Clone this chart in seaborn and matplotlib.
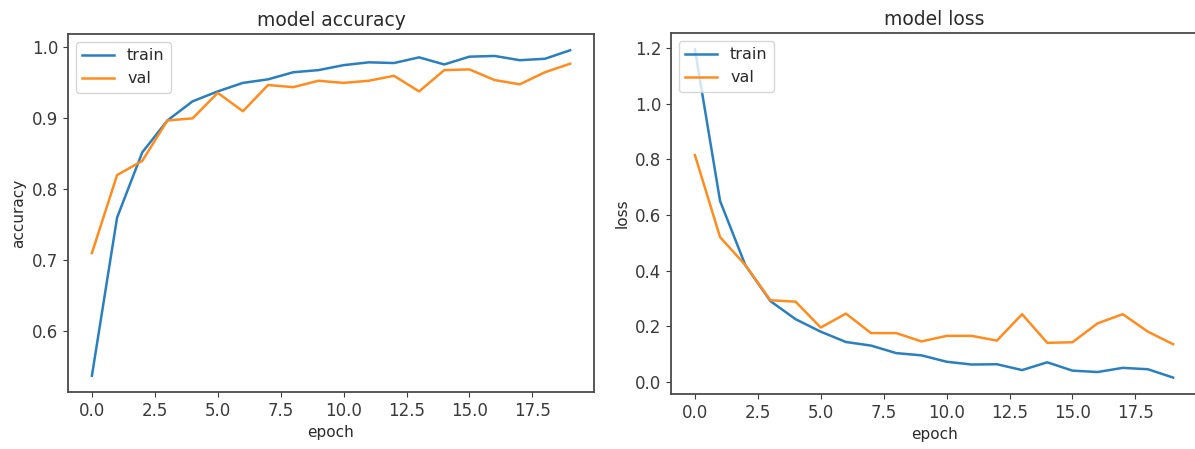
import numpy as np
import pandas as pd
import matplotlib
matplotlib.use("Agg")
import matplotlib.pyplot as plt
import seaborn as sns

# values
epochs = list(range(20))
acc_train = [0.537, 0.760, 0.852, 0.897, 0.924, 0.938, 0.950, 0.955, 0.965, 0.968,
             0.975, 0.979, 0.978, 0.986, 0.976, 0.987, 0.988, 0.982, 0.984, 0.996]
acc_val = [0.710, 0.820, 0.840, 0.897, 0.900, 0.936, 0.910, 0.947, 0.944, 0.953,
           0.950, 0.953, 0.960, 0.938, 0.968, 0.969, 0.954, 0.948, 0.965, 0.977]
loss_train = [1.195, 0.650, 0.420, 0.290, 0.225, 0.180, 0.143, 0.130, 0.103, 0.095,
              0.072, 0.062, 0.063, 0.042, 0.070, 0.040, 0.035, 0.050, 0.045, 0.015]
loss_val = [0.815, 0.520, 0.420, 0.293, 0.288, 0.195, 0.245, 0.175, 0.175, 0.145,
            0.165, 0.165, 0.148, 0.243, 0.140, 0.142, 0.210, 0.243, 0.180, 0.135]
series = ["train", "val"]
colors = ["#2a7fbf", "#ff8c1f"]

plt.rcParams["text.color"] = "#2a2a2a"
plt.rcParams["axes.labelcolor"] = "#2a2a2a"
plt.rcParams["xtick.color"] = "#3a3a3a"
plt.rcParams["ytick.color"] = "#3a3a3a"
plt.rcParams["axes.edgecolor"] = "#4a4a4a"

acc = pd.DataFrame({"epoch": epochs * 2,
                    "value": acc_train + acc_val,
                    "set": [series[0]] * 20 + [series[1]] * 20})
loss = pd.DataFrame({"epoch": epochs * 2,
                     "value": loss_train + loss_val,
                     "set": [series[0]] * 20 + [series[1]] * 20})

W, H = 1195, 449
fig = plt.figure(figsize=(W / 100, H / 100), dpi=100)
ax1 = fig.add_axes([68 / W, (H - 392) / H, 526 / W, 358 / H])
ax2 = fig.add_axes([671 / W, (H - 394) / H, 526 / W, 361 / H])

for ax, df, title, ylab in [(ax1, acc, "model accuracy", "accuracy"),
                            (ax2, loss, "model loss", "loss")]:
    sns.lineplot(data=df, x="epoch", y="value", hue="set", palette=colors,
                 ax=ax, linewidth=1.8)
    ax.set_title(title, fontsize=13.5)
    ax.set_xlabel("epoch", fontsize=11)
    ax.set_ylabel(ylab, fontsize=11)
    ax.set_xticks(np.arange(0, 20, 2.5))
    ax.tick_params(labelsize=12)
    for s in ax.spines.values():
        s.set_linewidth(1.3)
    ax.legend(loc="upper left", fontsize=11.5, title=None)

fig.savefig("out.png", dpi=100)
